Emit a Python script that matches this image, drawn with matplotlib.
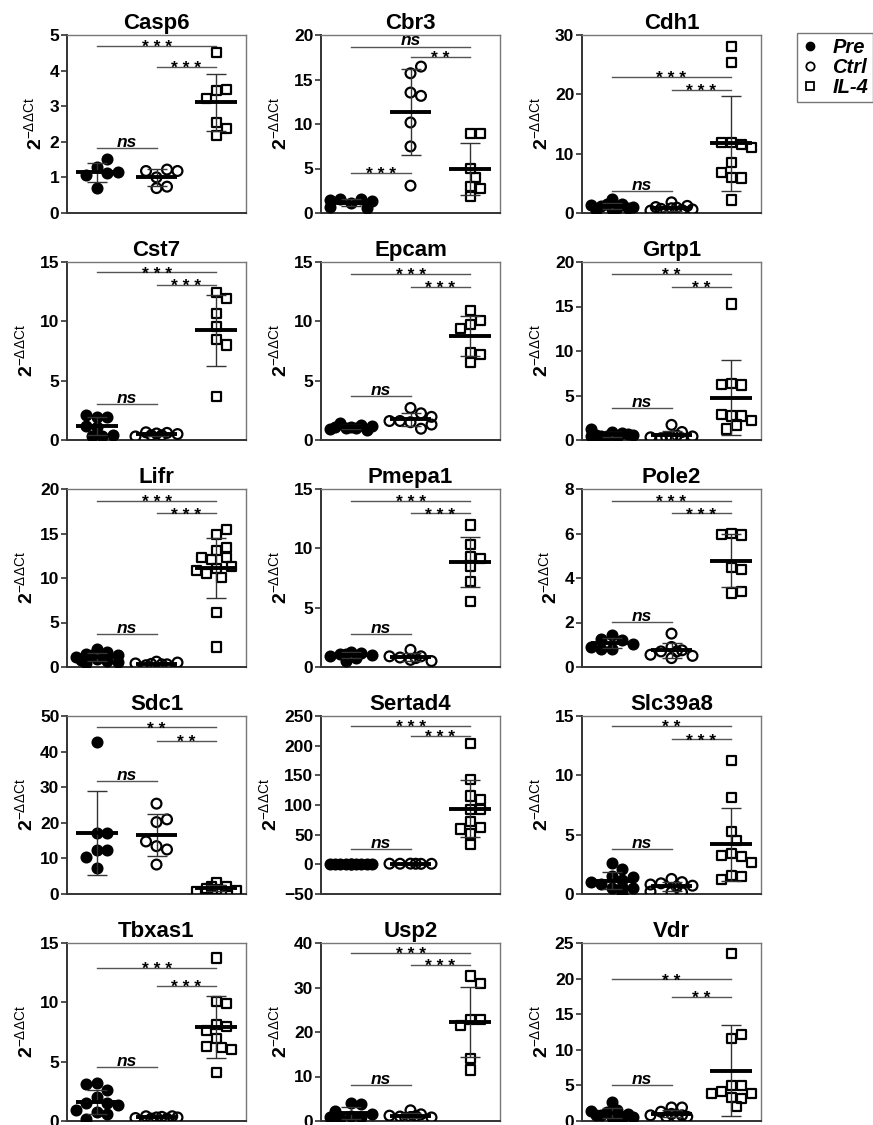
import numpy as np
import matplotlib
matplotlib.use('Agg')
import matplotlib.pyplot as plt
from matplotlib.lines import Line2D

plt.rcParams['font.family'] = ['Liberation Sans', 'DejaVu Sans']
plt.rcParams['mathtext.fontset'] = 'custom'
plt.rcParams['mathtext.rm'] = 'Liberation Sans'
plt.rcParams['mathtext.bf'] = 'Liberation Sans:bold'
plt.rcParams['mathtext.it'] = 'Liberation Sans:italic'

# ---------------- data ----------------
groups = ['Pre', 'Ctrl', 'IL-4']
genes = ['Casp6', 'Cbr3', 'Cdh1', 'Cst7', 'Epcam', 'Grtp1', 'Lifr', 'Pmepa1',
         'Pole2', 'Sdc1', 'Sertad4', 'Slc39a8', 'Tbxas1', 'Usp2', 'Vdr']

casp6_pre = [1.30, 1.52, 1.12, 1.08, 1.15, 0.70]
casp6_ctrl = [1.00, 1.22, 1.18, 1.18, 0.70, 0.74]
casp6_il4 = [4.50, 3.44, 3.48, 3.22, 2.55, 2.38, 2.18]

cbr3_pre = [1.1, 1.55, 1.6, 0.55, 0.65, 1.3, 1.5]
cbr3_ctrl = [15.70, 16.45, 13.53, 13.16, 10.17, 7.48, 3.07]
cbr3_il4 = [8.90, 8.97, 5.0, 4.0, 3.0, 2.73, 1.87]

cdh1_pre = [2.3, 1.5, 1.2, 1.0, 0.6, 1.4, 0.9, 1.6, 0.5, 0.8]
cdh1_ctrl = [1.8, 0.5, 0.3, 1.0, 0.6, 0.8, 0.4, 1.2, 0.9, 0.7]
cdh1_il4 = [28.0, 25.4, 11.9, 11.5, 11.9, 11.0, 8.5, 6.0, 5.9, 6.8, 2.2]

cst7_pre = [1.95, 1.95, 2.1, 1.1, 0.35, 0.35, 0.4, 1.2]
cst7_ctrl = [0.55, 0.6, 0.65, 0.5, 0.3, 0.4, 0.4]
cst7_il4 = [12.44, 11.9, 10.63, 9.56, 8.49, 8.0, 3.65]

epcam_pre = [1.1, 1.3, 1.4, 1.2, 0.9, 0.85, 1.0, 1.1, 1.0]
epcam_ctrl = [2.7, 2.25, 1.5, 1.6, 1.95, 1.6, 0.95, 1.3]
epcam_il4 = [10.89, 9.76, 10.04, 9.42, 7.39, 7.23, 6.52]

grtp1_pre = [0.9, 0.8, 0.5, 0.6, 1.2, 0.4, 0.3, 0.5, 0.7, 0.6]
grtp1_ctrl = [1.7, 0.9, 0.3, 0.2, 0.4, 0.3, 0.2, 0.5, 0.3]
grtp1_il4 = [15.27, 6.38, 6.19, 6.27, 2.70, 2.70, 2.89, 1.69, 1.24, 2.2]

lifr_pre = [2.0, 1.7, 1.5, 1.3, 1.1, 0.9, 0.7, 0.5, 1.2, 0.8, 1.4, 0.6]
lifr_ctrl = [0.6, 0.3, 0.2, 0.5, 0.4, 0.3, 0.35]
lifr_il4 = [14.93, 15.46, 13.13, 13.43, 12.31, 12.08, 12.31, 11.07, 11.33,
            10.51, 10.02, 10.8, 6.08, 2.25]

pmepa1_pre = [1.3, 1.2, 1.1, 1.0, 0.9, 0.8, 0.5, 1.1]
pmepa1_ctrl = [1.45, 0.9, 0.8, 0.6, 0.5, 0.9, 0.75]
pmepa1_il4 = [11.96, 10.33, 9.34, 9.15, 8.44, 7.23, 5.54]

pole2_pre = [1.45, 1.2, 1.28, 0.83, 0.83, 1.05, 0.9]
pole2_ctrl = [1.5, 0.9, 0.75, 0.7, 0.5, 0.4, 0.55, 0.7]
pole2_il4 = [6.0, 5.93, 5.97, 4.47, 4.38, 3.33, 3.4]

sdc1_pre = [42.76, 17.1, 17.1, 12.4, 12.5, 10.5, 7.2]
sdc1_ctrl = [25.38, 20.2, 20.96, 13.44, 12.5, 14.76, 8.27]
sdc1_il4 = [3.2, 2.0, 1.5, 1.0, 0.8, 1.2, 2.2, 0.9]

sertad4_pre = [1.0, 1.2, 0.8, 1.1, 0.9, 1.0, 1.3, 0.7, 1.0, 0.9]
sertad4_ctrl = [1.2, 0.8, 1.0, 0.9, 1.1, 1.0]
sertad4_il4 = [203.7, 142.8, 115.2, 109.6, 92.0, 92.0, 72.5, 62.4, 59.6, 51.2, 33.1]

slc39a8_pre = [2.6, 1.55, 2.1, 1.2, 0.85, 0.5, 0.1, 0.5, 1.4, 1.0, 0.6]
slc39a8_ctrl = [1.27, 1.0, 0.9, 0.7, 0.15, 0.15, 0.2, 0.8, 0.6]
slc39a8_il4 = [11.28, 8.12, 5.27, 4.48, 3.44, 3.19, 3.24, 2.68, 1.55, 1.47, 1.21]

tbxas1_pre = [3.2, 2.65, 3.1, 2.0, 1.55, 1.5, 1.35, 0.8, 0.55, 0.15, 0.9]
tbxas1_ctrl = [0.3, 0.2, 0.4, 0.3, 0.25, 0.35, 0.2, 0.4]
tbxas1_il4 = [13.73, 10.1, 9.9, 8.15, 7.98, 7.64, 6.93, 6.22, 6.31, 6.03, 4.1]

usp2_pre = [4.0, 3.8, 1.2, 0.8, 0.6, 1.5, 1.0, 2.2]
usp2_ctrl = [2.4, 1.5, 1.0, 0.8, 1.2, 0.9, 1.1, 0.7]
usp2_il4 = [32.6, 30.94, 22.87, 22.87, 21.5, 13.96, 11.47]

vdr_pre = [2.7, 1.5, 1.2, 1.0, 0.8, 0.5, 0.3, 0.9, 1.4, 0.6]
vdr_ctrl = [1.9, 1.9, 1.3, 0.5, 0.6, 0.8, 1.0, 0.6, 0.8]
vdr_il4 = [23.5, 11.6, 12.1, 5.0, 5.0, 4.1, 3.9, 3.9, 3.3, 3.2, 2.0]

gene_values = {
    'Casp6': (casp6_pre, casp6_ctrl, casp6_il4),
    'Cbr3': (cbr3_pre, cbr3_ctrl, cbr3_il4),
    'Cdh1': (cdh1_pre, cdh1_ctrl, cdh1_il4),
    'Cst7': (cst7_pre, cst7_ctrl, cst7_il4),
    'Epcam': (epcam_pre, epcam_ctrl, epcam_il4),
    'Grtp1': (grtp1_pre, grtp1_ctrl, grtp1_il4),
    'Lifr': (lifr_pre, lifr_ctrl, lifr_il4),
    'Pmepa1': (pmepa1_pre, pmepa1_ctrl, pmepa1_il4),
    'Pole2': (pole2_pre, pole2_ctrl, pole2_il4),
    'Sdc1': (sdc1_pre, sdc1_ctrl, sdc1_il4),
    'Sertad4': (sertad4_pre, sertad4_ctrl, sertad4_il4),
    'Slc39a8': (slc39a8_pre, slc39a8_ctrl, slc39a8_il4),
    'Tbxas1': (tbxas1_pre, tbxas1_ctrl, tbxas1_il4),
    'Usp2': (usp2_pre, usp2_ctrl, usp2_il4),
    'Vdr': (vdr_pre, vdr_ctrl, vdr_il4),
}

# y-axis range and tick step
gene_ylim = {'Casp6': (0, 5, 1), 'Cbr3': (0, 20, 5), 'Cdh1': (0, 30, 10),
             'Cst7': (0, 15, 5), 'Epcam': (0, 15, 5), 'Grtp1': (0, 20, 5),
             'Lifr': (0, 20, 5), 'Pmepa1': (0, 15, 5), 'Pole2': (0, 8, 2),
             'Sdc1': (0, 50, 10), 'Sertad4': (-50, 250, 50), 'Slc39a8': (0, 15, 5),
             'Tbxas1': (0, 15, 5), 'Usp2': (0, 40, 10), 'Vdr': (0, 25, 5)}

# significance: (Pre vs IL-4), (Ctrl vs IL-4), (Pre vs Ctrl) -> (label, bracket height)
gene_sig = {
    'Casp6': [('***', 4.70), ('***', 4.11), ('ns', 1.82)],
    'Cbr3': [('ns', 18.7), ('**', 17.57), ('***', 4.49)],
    'Cdh1': [('***', 22.88), ('***', 20.75), ('ns', 3.65)],
    'Cst7': [('***', 14.13), ('***', 13.06), ('ns', 3.03)],
    'Epcam': [('***', 14.0), ('***', 12.92), ('ns', 3.73)],
    'Grtp1': [('**', 18.69), ('**', 17.22), ('ns', 3.56)],
    'Lifr': [('***', 18.69), ('***', 17.26), ('ns', 3.68)],
    'Pmepa1': [('***', 14.01), ('***', 12.95), ('ns', 2.76)],
    'Pole2': [('***', 7.47), ('***', 6.90), ('ns', 2.02)],
    'Sdc1': [('**', 46.8), ('**', 43.05), ('ns', 31.67)],
    'Sertad4': [('***', 233.6), ('***', 216.2), ('ns', 26.1)],
    'Slc39a8': [('**', 14.15), ('***', 13.02), ('ns', 3.81)],
    'Tbxas1': [('***', 12.88), ('***', 11.38), ('ns', 4.53)],
    'Usp2': [('***', 37.74), ('***', 35.1), ('ns', 8.08)],
    'Vdr': [('**', 19.9), ('**', 17.45), ('ns', 5.05)],
}
sig_pairs = [(1, 3), (2, 3), (1, 2)]

# ---------------- layout ----------------
W, H = 873, 1125
fig = plt.figure(figsize=(W / 100, H / 100), dpi=100)
col_left = [67, 321, 582]
row_top = [35, 262, 489, 716, 943]
ax_w, ax_h = 179, 178

markers = ['o', 'o', 's']
faces = ['black', 'none', 'none']
sizes = [50, 50, 44]


def swarm_x(ax, xc, vals, diam, maxoff=21.0):
    """Greedy column-scatter placement limited to +-maxoff pixels."""
    tr = ax.transData
    ppx = tr.transform((1, 0))[0] - tr.transform((0, 0))[0]
    placed = []
    xs = []
    step = diam * 0.5
    cands = [0.0]
    k = 1
    while k * step <= maxoff + 1e-6:
        cands += [k * step, -k * step]
        k += 1
    for v in vals:
        y = tr.transform((xc, v))[1]
        best, best_d = 0.0, -1
        for c in cands:
            d = min([np.hypot(c - px, y - py) for px, py in placed] or [1e9])
            if d >= diam * 0.95:
                best = c
                break
            if d > best_d + 0.5:
                best, best_d = c, d
        placed.append((best, y))
        xs.append(xc + best / ppx)
    return xs


for i, g in enumerate(genes):
    r, c = divmod(i, 3)
    left = col_left[c] / W
    bottom = 1 - (row_top[r] + ax_h) / H
    ax = fig.add_axes([left, bottom, ax_w / W, ax_h / H])
    y0, y1, ystep = gene_ylim[g]
    ax.set_xlim(0.5, 3.5)
    ax.set_ylim(y0, y1)
    ax.set_yticks(np.arange(y0, y1 + ystep / 2, ystep))
    ax.set_xticks([])
    for lab in ax.get_yticklabels():
        lab.set_fontweight('bold')
    ax.tick_params(axis='y', labelsize=12.5, length=4, width=1.2, color='#333', pad=1.5)
    for s in ['left', 'bottom']:
        ax.spines[s].set_color('#333')
        ax.spines[s].set_linewidth(1.4)
    for s in ['top', 'right']:
        ax.spines[s].set_color('#777')
        ax.spines[s].set_linewidth(1.0)
    ax.set_title(g, fontsize=16, fontweight='bold', pad=4)
    ax.set_ylabel(r'$\mathbf{2}^{\mathrm{-\Delta\Delta Ct}}$', fontsize=14, labelpad=3)

    for j, vals in enumerate(gene_values[g]):
        xc = j + 1
        xs = swarm_x(ax, xc, vals, 10.5 if j < 2 else 10.0)
        ax.scatter(xs, vals, marker=markers[j], s=sizes[j], facecolors=faces[j],
                   edgecolors='black', linewidths=1.6, zorder=3)
        m = np.mean(vals)
        sd = np.std(vals, ddof=1)
        ax.errorbar([xc], [m], yerr=[sd], fmt='none', ecolor='#333', elinewidth=1.0,
                    capsize=7, capthick=1.0, zorder=4)
        ax.plot([xc - 0.35, xc + 0.35], [m, m], color='black', lw=2.8, zorder=5,
                solid_capstyle='butt')

    for (lab, yh), (a, b) in zip(gene_sig[g], sig_pairs):
        ax.plot([a, b], [yh, yh], color='#555', lw=1.0, zorder=2, clip_on=False)
        if lab == 'ns':
            ax.annotate('ns', xy=((a + b) / 2, yh), xytext=(0, 0.8), textcoords='offset points',
                        ha='center', va='baseline', fontsize=12.5, fontweight='bold',
                        fontstyle='italic', annotation_clip=False)
        else:
            ax.annotate(' '.join(lab), xy=((a + b) / 2, yh), xytext=(0, -4.5),
                        textcoords='offset points', ha='center', va='baseline',
                        fontsize=12.5, fontweight='bold', annotation_clip=False)

handles = [Line2D([], [], ls='none', marker='o', color='black', markerfacecolor='black', markersize=6),
           Line2D([], [], ls='none', marker='o', color='black', markerfacecolor='none', markersize=6, markeredgewidth=1.3),
           Line2D([], [], ls='none', marker='s', color='black', markerfacecolor='none', markersize=6, markeredgewidth=1.3)]
leg = fig.legend(handles, groups, loc='upper left', bbox_to_anchor=(797 / W, 1 - 33 / H),
                 borderaxespad=0, frameon=True, fancybox=False, handlelength=0.8,
                 handletextpad=0.7, labelspacing=0.05, borderpad=0.25,
                 prop={'size': 14.5, 'weight': 'bold', 'style': 'italic'})
leg.get_frame().set_edgecolor('#555')
leg.get_frame().set_linewidth(1.0)

fig.savefig('out.png', dpi=100)
